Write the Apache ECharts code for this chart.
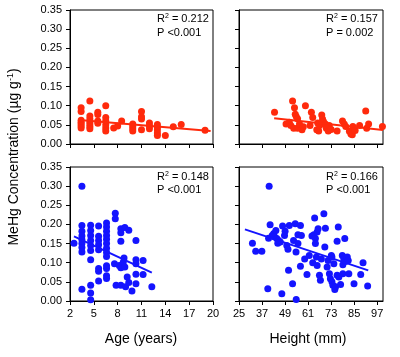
<!DOCTYPE html>
<html>
<head>
<meta charset="utf-8">
<script src="https://cdn.jsdelivr.net/npm/echarts@6/dist/echarts.min.js"></script>
<style>
html,body{margin:0;padding:0;background:#fff;}
#chart{width:400px;height:357px;}
</style>
</head>
<body>
<div id="chart"></div>
<script>
// ---- data ----
const ageTicks = [2, 5, 8, 11, 14, 17, 20];
const heightTicks = [25, 37, 49, 61, 73, 85, 97];
const yTicks = [0, 0.05, 0.10, 0.15, 0.20, 0.25, 0.30, 0.35];

// top-left: red, MeHg vs Age
const redAge = [
  [3.4,0.095],[3.4,0.085],[3.4,0.062],[3.4,0.057],[3.4,0.052],[3.4,0.047],[3.4,0.042],
  [4.5,0.112],[4.5,0.073],[4.5,0.065],[4.5,0.058],[4.5,0.052],[4.5,0.046],[4.5,0.040],
  [5.5,0.083],[5.5,0.077],[5.5,0.060],[5.5,0.054],
  [6.5,0.100],[6.5,0.069],[6.5,0.060],[6.5,0.050],[6.5,0.042],[6.5,0.034],
  [7.5,0.042],[8.0,0.047],[8.5,0.060],
  [9.9,0.052],[9.9,0.046],[9.9,0.040],[9.9,0.034],
  [11,0.085],[11,0.071],[11,0.065],[11,0.037],
  [12,0.055],[12,0.047],[12,0.040],
  [13,0.051],[13,0.044],[13,0.037],[13,0.029],[13,0.022],
  [14,0.022],[15,0.045],[16,0.051],[19,0.036]
];
// top-right: red, MeHg vs Height
const redHeight = [
  [43.5,0.083],
  [52.9,0.112],[53.9,0.095],[54.3,0.078],[54.8,0.072],[55.5,0.066],
  [59.6,0.100],[62.7,0.083],[63.4,0.069],[68.1,0.076],[68.5,0.065],[69.0,0.059],
  [49.5,0.052],[51.2,0.057],[52.0,0.048],[53.5,0.041],[55.5,0.041],[56.5,0.052],[57.8,0.037],[58.5,0.045],
  [62.0,0.048],[65.5,0.037],[66.5,0.034],[66.0,0.055],[67.0,0.048],
  [70.0,0.052],[70.5,0.041],[71.5,0.034],[72.0,0.048],[73.0,0.038],
  [76.1,0.034],[78.9,0.060],[79.8,0.052],[80.6,0.046],
  [82.5,0.033],[83.3,0.026],[84.0,0.024],[84.3,0.046],[85.5,0.035],[87.8,0.048],
  [91.0,0.086],[91.5,0.041],[92.5,0.052],[99.7,0.046]
];
// bottom-left: blue, MeHg vs Age
const blueAge = [
  [2.5,0.151],
  [3.5,0.300],[3.5,0.197],[3.5,0.182],[3.5,0.170],[3.5,0.160],[3.5,0.150],[3.5,0.140],[3.5,0.128],[3.5,0.031],
  [4.6,0.198],[4.6,0.184],[4.6,0.171],[4.6,0.158],[4.6,0.145],[4.6,0.132],[4.6,0.108],[4.6,0.041],[4.6,0.021],[4.6,0.003],
  [5.6,0.196],[5.6,0.169],[5.6,0.158],[5.6,0.147],[5.6,0.134],[5.6,0.085],[5.6,0.078],[5.6,0.052],
  [6.6,0.204],[6.6,0.193],[6.6,0.182],[6.6,0.171],[6.6,0.161],[6.6,0.150],[6.6,0.138],[6.6,0.127],[6.6,0.116],[6.6,0.092],[6.6,0.085],[6.6,0.066],[6.6,0.059],
  [7.7,0.229],[7.7,0.215],[7.6,0.097],[7.8,0.041],
  [8.2,0.093],[8.4,0.087],[8.4,0.189],[8.4,0.178],[8.4,0.156],[8.4,0.041],
  [8.9,0.192],[8.8,0.112],[8.7,0.101],[8.9,0.089],[9.0,0.037],
  [9.4,0.185],[9.2,0.063],[9.4,0.048],[9.8,0.026],
  [10.3,0.158],[10.3,0.108],[10.3,0.097],[10.3,0.070],[10.3,0.045],
  [11.2,0.106],[11.2,0.069],
  [12.3,0.037]
];
// bottom-right: blue, MeHg vs Height
const blueHeight = [
  [32.0,0.151],[33.7,0.130],[36.9,0.130],
  [40.0,0.032],[40.7,0.300],[40.4,0.164],[41.2,0.199],
  [42.3,0.171],[43.1,0.176],[43.6,0.167],[44.2,0.184],
  [44.7,0.163],[45.6,0.158],[46.5,0.154],[45.2,0.151],
  [47.3,0.019],[47.7,0.196],[48.7,0.171],[49.0,0.182],
  [49.9,0.145],[50.5,0.135],[50.8,0.080],[51.2,0.197],
  [52.9,0.045],[53.4,0.158],[54.3,0.202],[54.7,0.128],[54.8,0.004],
  [55.7,0.173],[57.0,0.197],[57.5,0.171],[57.0,0.091],[55.7,0.150],
  [59.2,0.110],[60.4,0.069],[61.6,0.119],
  [63.0,0.170],[63.4,0.100],[64.0,0.173],[64.4,0.217],[64.8,0.163],[64.8,0.150],
  [65.3,0.115],[65.7,0.180],[65.7,0.093],[66.2,0.189],
  [66.9,0.067],[67.4,0.054],[67.9,0.110],
  [69.2,0.228],[69.7,0.141],[70.0,0.190],[70.9,0.089],[71.4,0.106],
  [72.1,0.071],[72.6,0.058],[73.1,0.119],[73.4,0.050],[73.4,0.115],[73.9,0.041],[74.4,0.097],
  [74.9,0.030],[75.3,0.037],[76.1,0.156],[76.7,0.193],[76.1,0.067],[77.0,0.063],[77.9,0.043],
  [78.8,0.119],[79.1,0.095],[79.6,0.110],[79.1,0.071],[80.1,0.163],[80.5,0.103],[81.4,0.115],[81.9,0.106],[82.2,0.071],
  [84.9,0.045],[88.4,0.069],[89.6,0.100],[92.0,0.039]
];
// regression line end points
const fitRedAge = [[3.2,0.063],[19.7,0.034]];
const fitRedHeight = [[43.3,0.067],[100,0.0366]];
const fitBlueAge = [[2.5,0.169],[12.3,0.074]];
const fitBlueHeight = [[28.1,0.187],[92.3,0.080]];

const stats = [
  ['0.212','<0.001'],
  ['0.157','= 0.002'],
  ['0.148','<0.001'],
  ['0.166','<0.001']
];

// ---- chart ----
const RED = '#ff2a0c';
const BLUE = '#1414ff';
const FONT = "'Liberation Sans', Arial, sans-serif";

const chart = echarts.init(document.getElementById('chart'), null, {renderer:'canvas'});

const gridPos = [
  {left:70, top:10, width:143, height:134},
  {left:239, top:10, width:144, height:134},
  {left:70, top:167, width:143, height:134},
  {left:239, top:167, width:144, height:134}
];

function xAxisFor(i){
  const isAge = (i % 2 === 0);
  const showLabels = i >= 2;
  const ticks = isAge ? ageTicks : heightTicks;
  return {
    type:'value', gridIndex:i,
    min: isAge ? 2 : 25, max: isAge ? 20 : 100,
    axisLine:{show:true, onZero:false, lineStyle:{color:'#000', width:1}},
    axisTick:{show:true, inside:false, length:4, lineStyle:{color:'#000'}, customValues: ticks},
    axisLabel:{show:showLabels, customValues: ticks, margin:7, color:'#000', fontSize:11, fontFamily:FONT},
    splitLine:{show:false}
  };
}
function yAxisFor(i){
  const showLabels = (i % 2 === 0);
  return {
    type:'value', gridIndex:i, min:0, max:0.35,
    axisLine:{show:true, onZero:false, lineStyle:{color:'#000', width:1}},
    axisTick:{show:true, inside:false, length:4, lineStyle:{color:'#000'}, customValues: yTicks},
    axisLabel:{show:showLabels, customValues: yTicks, margin:8, color:'#000', fontSize:11, fontFamily:FONT,
      formatter: v => v.toFixed(2)},
    splitLine:{show:false}
  };
}

const datasets = [redAge, redHeight, blueAge, blueHeight];
const fits = [fitRedAge, fitRedHeight, fitBlueAge, fitBlueHeight];
const colors = [RED, RED, BLUE, BLUE];

const series = [];
for (let i = 0; i < 4; i++) {
  series.push({
    type:'scatter', xAxisIndex:i, yAxisIndex:i, data:datasets[i],
    symbol:'circle', symbolSize:7, itemStyle:{color:colors[i], opacity:1}, silent:true
  });
  series.push({
    type:'line', xAxisIndex:i, yAxisIndex:i, data:fits[i],
    symbol:'none', lineStyle:{color:colors[i], width:2}, silent:true, z:3
  });
}

const statPos = [[157,19],[326,19],[157,176.5],[326,176.5]];
const graphics = [];
for (let i = 0; i < 4; i++) {
  graphics.push({
    type:'text', x:statPos[i][0], y:statPos[i][1],
    style:{
      text:'{b|R}{s|2}{b| = ' + stats[i][0] + '}',
      rich:{ b:{fontSize:11, fontFamily:FONT, fill:'#000', lineHeight:12},
             s:{fontSize:7, fontFamily:FONT, fill:'#000', verticalAlign:'top', lineHeight:8} },
      textAlign:'left', textVerticalAlign:'middle', verticalAlign:'middle'
    }
  });
  graphics.push({
    type:'text', x:statPos[i][0], y:statPos[i][1] + 13.5,
    style:{ text:'P ' + stats[i][1], font:'11px ' + FONT, fill:'#000',
      textAlign:'left', textVerticalAlign:'middle', verticalAlign:'middle' }
  });
}
graphics.push({
  type:'text', x:14, y:157, rotation:Math.PI/2,
  style:{
    text:'{b|MeHg Concentration (µg g}{s|-1}{b|)}',
    rich:{ b:{fontSize:14, fontFamily:FONT, fill:'#000', lineHeight:16},
           s:{fontSize:9, fontFamily:FONT, fill:'#000', verticalAlign:'top', lineHeight:10} },
    textAlign:'center', textVerticalAlign:'middle', verticalAlign:'middle'
  }
});
graphics.push({
  type:'text', x:141, y:339,
  style:{ text:'Age (years)', font:'14px ' + FONT, fill:'#000', textAlign:'center', textVerticalAlign:'middle', verticalAlign:'middle' }
});
graphics.push({
  type:'text', x:308, y:339,
  style:{ text:'Height (mm)', font:'14px ' + FONT, fill:'#000', textAlign:'center', textVerticalAlign:'middle', verticalAlign:'middle' }
});

chart.setOption({
  animation:false,
  backgroundColor:'#fff',
  grid: gridPos.map(g => Object.assign({show:true, borderColor:'#000', borderWidth:1, backgroundColor:'transparent', containLabel:false}, g)),
  xAxis: [0,1,2,3].map(xAxisFor),
  yAxis: [0,1,2,3].map(yAxisFor),
  series: series,
  graphic: graphics
});
</script>
</body>
</html>
